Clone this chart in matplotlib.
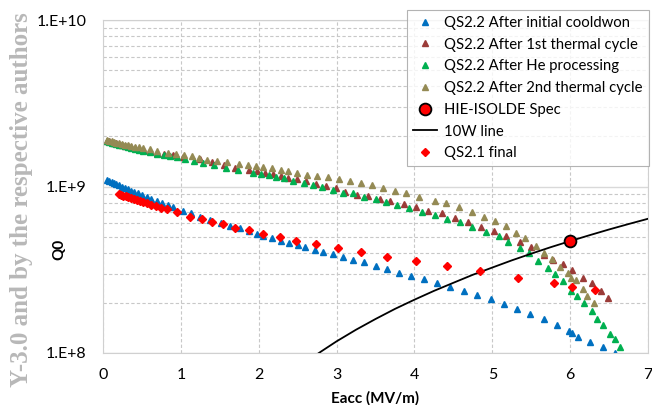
import numpy as np
import matplotlib
matplotlib.use("Agg")
import matplotlib.pyplot as plt
from matplotlib.ticker import FixedLocator, LogLocator, NullFormatter

# Q0 values are given in units of 1e8
QSCALE = 1e8

e_cooldown = [0.05, 0.08, 0.11, 0.14, 0.17, 0.20, 0.24, 0.28, 0.32, 0.36, 0.40, 0.45, 0.50,
              0.56, 0.62, 0.69, 0.76, 0.83, 0.90, 1.03, 1.13, 1.25, 1.38, 1.51, 1.63, 1.76,
              1.88, 1.98, 2.06, 2.17, 2.28, 2.39, 2.50, 2.60, 2.72, 2.83, 2.95, 3.08, 3.21,
              3.35, 3.51, 3.65, 3.80, 3.96, 4.12, 4.29, 4.46, 4.64, 4.80, 4.98, 5.15, 5.32,
              5.49, 5.66, 5.83, 5.98, 6.02, 6.10, 6.25, 6.42, 6.57]
q_cooldown = [10.9, 10.76, 10.6, 10.47, 10.3, 10.2, 10.0, 9.82, 9.64, 9.46, 9.29, 9.08, 8.87,
              8.61, 8.36, 8.13, 7.91, 7.71, 7.52, 7.16, 6.89, 6.53, 6.27, 6.01, 5.78, 5.60,
              5.38, 5.19, 5.07, 4.90, 4.71, 4.55, 4.43, 4.31, 4.17, 4.02, 3.91, 3.78, 3.63,
              3.52, 3.33, 3.21, 3.03, 2.90, 2.77, 2.64, 2.50, 2.36, 2.24, 2.10, 1.97, 1.84,
              1.71, 1.59, 1.47, 1.36, 1.32, 1.25, 1.17, 1.08, 1.00]

e_cycle1 = [0.05, 0.08, 0.11, 0.14, 0.17, 0.20, 0.24, 0.28, 0.32, 0.36, 0.41, 0.46, 0.52,
            0.60, 0.69, 0.78, 0.90, 1.03, 1.25, 1.40, 1.55, 1.70, 1.88, 1.98, 2.08, 2.18,
            2.28, 2.38, 2.49, 2.61, 2.74, 2.86, 2.99, 3.11, 3.26, 3.40, 3.56, 3.69, 3.86,
            4.02, 4.18, 4.35, 4.52, 4.69, 4.85, 5.02, 5.18, 5.35, 5.50, 5.66, 5.78, 5.91,
            6.03, 6.16, 6.28, 6.40, 6.49]
q_cycle1 = [18.88, 18.71, 18.54, 18.37, 18.20, 18.03, 17.82, 17.62, 17.42, 17.22, 17.02, 16.83, 16.60,
            16.29, 16.00, 15.70, 15.42, 15.14, 14.72, 14.13, 13.55, 13.00, 12.59, 12.36, 12.08, 11.86,
            11.59, 11.27, 11.02, 10.72, 10.42, 10.09, 9.73, 9.29, 8.95, 8.79, 8.39, 8.17, 7.80,
            7.48, 7.11, 6.89, 6.43, 6.14, 5.73, 5.40, 5.04, 4.61, 4.31, 3.89, 3.63, 3.44,
            3.16, 2.84, 2.62, 2.37, 2.15]

e_he = [0.05, 0.08, 0.11, 0.14, 0.17, 0.20, 0.24, 0.28, 0.32, 0.36, 0.41, 0.46, 0.52,
        0.60, 0.69, 0.78, 0.86, 0.95, 1.05, 1.17, 1.29, 1.43, 1.58, 1.74, 1.93, 2.03,
        2.13, 2.22, 2.33, 2.44, 2.58, 2.70, 2.81, 2.96, 3.08, 3.21, 3.35, 3.51, 3.64,
        3.78, 3.93, 4.10, 4.26, 4.42, 4.59, 4.74, 4.92, 5.08, 5.20, 5.35, 5.47, 5.59,
        5.71, 5.81, 5.91, 6.01, 6.09, 6.18, 6.28, 6.35, 6.42, 6.51, 6.57, 6.64]
q_he = [18.71, 18.54, 18.37, 18.20, 18.03, 17.86, 17.66, 17.46, 17.26, 17.06, 16.87, 16.67, 16.44,
        16.14, 15.78, 15.42, 15.21, 15.07, 14.72, 14.32, 13.87, 13.43, 13.00, 12.53, 12.08, 11.86,
        11.69, 11.43, 11.17, 10.72, 10.52, 10.28, 9.95, 9.59, 9.16, 9.08, 8.67, 8.36, 8.02,
        7.73, 7.38, 7.01, 6.73, 6.37, 6.14, 5.68, 5.35, 5.01, 4.66, 4.29, 3.96, 3.58,
        3.25, 2.98, 2.72, 2.37, 2.21, 2.01, 1.79, 1.61, 1.47, 1.30, 1.21, 1.08]

e_cycle2 = [0.05, 0.08, 0.11, 0.14, 0.17, 0.20, 0.24, 0.28, 0.32, 0.36, 0.41, 0.46, 0.52,
            0.60, 0.69, 0.84, 0.94, 1.04, 1.14, 1.23, 1.33, 1.46, 1.59, 1.75, 1.86, 1.96,
            2.06, 2.17, 2.28, 2.38, 2.49, 2.62, 2.75, 2.89, 3.03, 3.17, 3.31, 3.46, 3.60,
            3.75, 3.89, 4.06, 4.26, 4.40, 4.57, 4.74, 4.89, 5.03, 5.17, 5.31, 5.42, 5.56,
            5.66, 5.77, 5.87, 5.97, 6.01, 6.07, 6.16, 6.22, 6.30]
q_cycle2 = [18.97, 18.79, 18.66, 18.49, 18.37, 18.20, 18.03, 17.86, 17.70, 17.54, 17.38, 17.22, 17.14,
            16.75, 16.37, 15.92, 15.63, 15.42, 15.21, 14.86, 14.52, 14.32, 14.13, 13.74, 13.52, 13.30,
            13.12, 12.94, 12.65, 12.36, 12.08, 11.75, 11.53, 11.38, 11.02, 10.76, 10.52, 10.19, 9.82,
            9.42, 9.08, 8.67, 8.20, 7.91, 7.48, 7.05, 6.58, 6.19, 5.78, 5.27, 4.88, 4.39,
            3.96, 3.66, 3.30, 3.01, 2.84, 2.74, 2.41, 2.20, 2.00]

e_spec = [6.0]
q_spec = [4.7]

e_10w = [2.6, 2.8, 3.0, 3.25, 3.5, 3.75, 4.0, 4.25, 4.5, 4.75, 5.0, 5.25, 5.5, 5.75, 6.0,
         6.25, 6.5, 6.75, 7.0]
q_10w = [0.88, 1.02, 1.175, 1.38, 1.60, 1.84, 2.09, 2.36, 2.64, 2.95, 3.26, 3.60, 3.95,
         4.32, 4.70, 5.10, 5.52, 5.95, 6.40]

e_qs21 = [0.20, 0.23, 0.26, 0.29, 0.32, 0.36, 0.40, 0.44, 0.48, 0.52, 0.57, 0.62, 0.68,
          0.75, 0.82, 0.95, 1.12, 1.27, 1.40, 1.54, 1.69, 1.87, 2.05, 2.27, 2.48, 2.74,
          3.02, 3.32, 3.65, 4.02, 4.42, 4.84, 5.33, 5.79, 6.03, 6.32]
q_qs21 = [9.00, 8.91, 8.81, 8.73, 8.63, 8.51, 8.39, 8.28, 8.17, 8.05, 7.91, 7.78, 7.62,
          7.45, 7.28, 7.05, 6.58, 6.34, 6.14, 5.92, 5.65, 5.47, 5.18, 4.99, 4.72, 4.49,
          4.29, 4.06, 3.78, 3.58, 3.33, 3.10, 2.83, 2.62, 2.50, 2.39]

labels = ["QS2.2 After initial cooldwon", "QS2.2 After 1st thermal cycle",
          "QS2.2 After He processing", "QS2.2 After 2nd thermal cycle",
          "HIE-ISOLDE Spec", "10W line", "QS2.1 final"]

plt.rcParams['font.family'] = ['Lato', 'DejaVu Sans']

fig = plt.figure(figsize=(6.52, 4.05), dpi=100)
ax = fig.add_axes([103 / 652, 52 / 405, 545 / 652, 333 / 405])

def q(vals):
    return np.array(vals) * QSCALE

ax.plot(e_cooldown, q(q_cooldown), ls='none', marker='^', ms=5, color='#0070C0', label=labels[0])
ax.plot(e_cycle1, q(q_cycle1), ls='none', marker='^', ms=5, color='#9B3B38', label=labels[1])
ax.plot(e_he, q(q_he), ls='none', marker='^', ms=5, color='#00B050', label=labels[2])
ax.plot(e_cycle2, q(q_cycle2), ls='none', marker='^', ms=5, color='#948A54', label=labels[3])
ax.plot(e_10w, q(q_10w), color='black', lw=1.3, label=labels[5], zorder=4)
ax.plot(e_spec, q(q_spec), ls='none', marker='o', ms=8.5, mfc='red', mec='black', mew=1.3,
        label=labels[4], zorder=6)
ax.plot(e_qs21, q(q_qs21), ls='none', marker='D', ms=4.3, color='#FF0000', label=labels[6], zorder=5)

ax.set_yscale('log')
ax.set_xlim(0, 7)
ax.set_ylim(1e8, 1e10)

ax.yaxis.set_major_locator(FixedLocator([1e8, 1e9, 1e10]))
ax.set_yticklabels(["1.E+8", "1.E+9", "1.E+10"])
ax.yaxis.set_minor_locator(LogLocator(base=10, subs=np.arange(2, 10)))
ax.yaxis.set_minor_formatter(NullFormatter())
ax.set_xticks(range(8))

ax.tick_params(which='both', length=0)
ax.tick_params(axis='y', pad=12, labelsize=11.5)
ax.tick_params(axis='x', pad=11, labelsize=11.5)

ax.grid(True, which='major', axis='y', color='#d9d9d9', lw=1.0, ls='-')
ax.grid(True, which='minor', axis='y', color='#c8c8c8', lw=0.8, ls=(0, (3, 2)))
ax.grid(True, which='major', axis='x', color='#c8c8c8', lw=0.8, ls=(0, (3, 2)))
ax.set_axisbelow(True)
for s in ax.spines.values():
    s.set_color('#d0d0d0')

ax.set_xlabel("Eacc (MV/m)", fontweight='bold', fontsize=11)
ax.xaxis.set_label_coords(0.5, -0.115)
ax.set_ylabel("Q0", fontweight='bold', fontsize=11)
ax.yaxis.set_label_coords(-0.068, 0.31)

handles, labs = ax.get_legend_handles_labels()
order = [labs.index(l) for l in labels]
leg = ax.legend([handles[i] for i in order], [labs[i] for i in order],
                loc='upper left', bbox_to_anchor=(407 / 652, 1 - 10 / 405),
                bbox_transform=fig.transFigure, fontsize=10.7, frameon=True,
                fancybox=False, edgecolor='#a0a0a0', handlelength=1.6,
                handletextpad=0.5, labelspacing=0.52, borderpad=0.4, borderaxespad=0)
leg.get_frame().set_linewidth(0.8)

fig.text(22 / 652, 1 - 12 / 405, "Y-3.0 and by the respective authors", rotation=90,
         ha='center', va='top', family='Liberation Serif', fontweight='bold',
         fontsize=18, color='#b8b8b8')

fig.savefig("out.png", dpi=100)
